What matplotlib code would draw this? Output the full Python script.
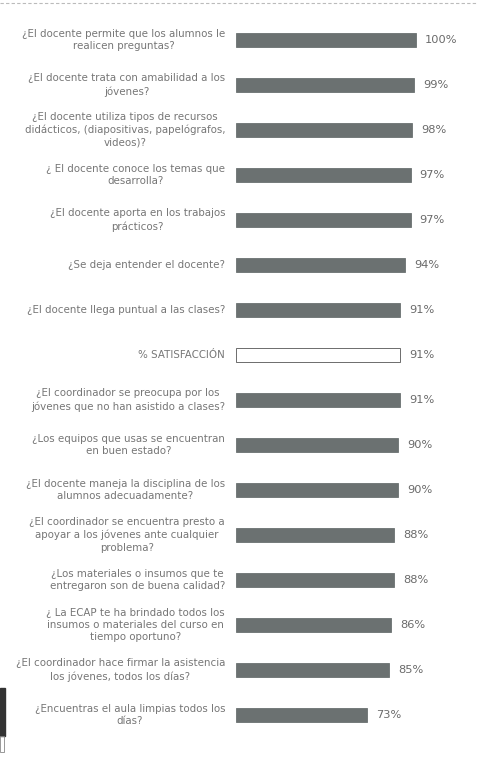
import matplotlib.pyplot as plt
from matplotlib.patches import Rectangle

preguntas = [
    "¿El docente permite que los alumnos le\nrealicen preguntas?",
    "¿El docente trata con amabilidad a los\njóvenes?",
    "¿El docente utiliza tipos de recursos\ndidácticos, (diapositivas, papelógrafos,\nvideos)?",
    "¿ El docente conoce los temas que\ndesarrolla?",
    "¿El docente aporta en los trabajos\nprácticos?",
    "¿Se deja entender el docente?",
    "¿El docente llega puntual a las clases?",
    "% SATISFACCIÓN",
    "¿El coordinador se preocupa por los\njóvenes que no han asistido a clases?",
    "¿Los equipos que usas se encuentran\nen buen estado?",
    "¿El docente maneja la disciplina de los\nalumnos adecuadamente?",
    "¿El coordinador se encuentra presto a\napoyar a los jóvenes ante cualquier\nproblema?",
    "¿Los materiales o insumos que te\nentregaron son de buena calidad?",
    "¿ La ECAP te ha brindado todos los\ninsumos o materiales del curso en\ntiempo oportuno?",
    "¿El coordinador hace firmar la asistencia\nlos jóvenes, todos los días?",
    "¿Encuentras el aula limpias todos los\ndías?",
]
porcentajes = [100, 99, 98, 97, 97, 94, 91, 91, 91, 90, 90, 88, 88, 86, 85, 73]
total_idx = 7  # fila de % SATISFACCION

plt.rcParams['font.family'] = ['DejaVu Sans']

W, H = 478, 761
fig = plt.figure(figsize=(W/100, H/100), dpi=100)
ax = fig.add_axes([0, 0, 1, 1])

# escala: x=0 en px 236, 100% en px 416 ; filas cada 45 px desde y=40
px = 1.8
x0 = 236
ax.set_xlim(-x0/px, (W - x0)/px)
ax.set_ylim((H - 40)/45, -40/45)
ax.axis('off')

y = list(range(len(porcentajes)))
colores = ['#6b7171' if i != total_idx else 'white' for i in y]
bordes = ['#6b7171' if i != total_idx else '#555555' for i in y]
ax.barh(y, porcentajes, height=0.33, color=colores, edgecolor=bordes, linewidth=0.6)

for i in y:
    ax.text(-11/px, i, preguntas[i], ha='right', va='center', multialignment='center',
            fontsize=7.4, color='#767676', linespacing=1.3)
    ax.text(porcentajes[i] + 5, i, f"{porcentajes[i]}%", ha='left', va='center',
            fontsize=8.2, color='#6a6a6a')

# linea punteada arriba y marca del escaneo
ax.axhline(-0.82, color='#bbbbbb', lw=0.8, ls=(0, (3, 2)))
fig.patches.append(Rectangle((0, 1 - 736/H), 5/W, 48/H, transform=fig.transFigure,
                             color='#333333', zorder=5))
fig.patches.append(Rectangle((0, 1 - 752/H), 4/W, 16/H, transform=fig.transFigure,
                             facecolor='none', edgecolor='#888888', lw=0.6, zorder=5))

fig.savefig('out.png', dpi=100, facecolor='white')
